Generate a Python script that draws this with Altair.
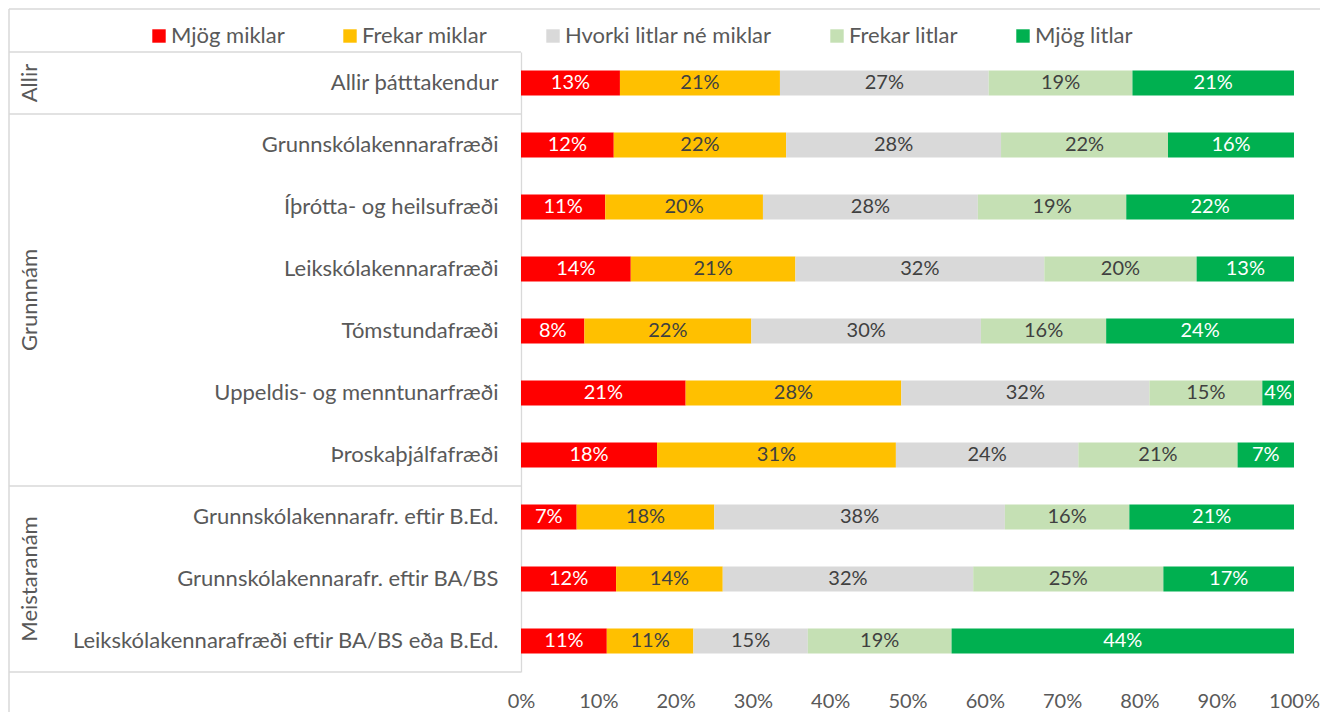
import altair as alt
import pandas as pd

categories = [
    "Allir þátttakendur",
    "Grunnskólakennarafræði",
    "Íþrótta- og heilsufræði",
    "Leikskólakennarafræði",
    "Tómstundafræði",
    "Uppeldis- og menntunarfræði",
    "Þroskaþjálfafræði",
    "Grunnskólakennarafr. eftir B.Ed.",
    "Grunnskólakennarafr. eftir BA/BS",
    "Leikskólakennarafræði eftir BA/BS eða B.Ed.",
]
levels = ["Mjög miklar", "Frekar miklar", "Hvorki litlar né miklar", "Frekar litlar", "Mjög litlar"]
mjog_miklar = [12.8, 12.0, 10.9, 14.2, 8.2, 21.3, 17.6, 7.2, 12.3, 11.1]
frekar_miklar = [20.7, 22.3, 20.4, 21.3, 21.6, 27.9, 30.9, 17.8, 13.8, 11.2]
hvorki = [27.0, 27.8, 27.8, 32.2, 29.7, 32.1, 23.6, 37.6, 32.4, 14.8]
frekar_litlar = [18.6, 21.6, 19.2, 19.7, 16.2, 14.6, 20.6, 16.1, 24.6, 18.6]
mjog_litlar = [20.9, 16.3, 21.7, 12.6, 24.3, 4.1, 7.3, 21.3, 16.9, 44.3]
groups = ["Allir", "Grunnnám", "Meistaranám"]
group_sizes = [1, 6, 3]
colors = ["#FF0000", "#FFC000", "#D9D9D9", "#C5E0B4", "#00B050"]
x_ticks = [0, 0.1, 0.2, 0.3, 0.4, 0.5, 0.6, 0.7, 0.8, 0.9, 1.0]

FONT = "Lato"
GRAY_TXT = "#595959"
LINE = "#D9D9D9"

series = [mjog_miklar, frekar_miklar, hvorki, frekar_litlar, mjog_litlar]
rows = []
for li, (lvl, vals) in enumerate(zip(levels, series)):
    for c, v in zip(categories, vals):
        rows.append({"cat": c, "level": lvl, "order": li, "frac": v / 100.0})
df = pd.DataFrame(rows)

starts, ends = [], []
acc = 0
for s in group_sizes:
    starts.append(acc)
    acc += s
    ends.append(acc)
gdf = pd.DataFrame({"group": groups, "start": starts, "end": ends})
gdf["mid"] = (gdf["start"] + gdf["end"]) / 2
bdf = pd.DataFrame({"b": [0] + ends})

yenc = alt.Y(
    "cat:N",
    sort=categories,
    title=None,
    scale=alt.Scale(paddingInner=0.6, paddingOuter=0.3),
    axis=alt.Axis(
        labelFont=FONT, labelFontSize=22, labelColor=GRAY_TXT, labelPadding=23,
        labelLimit=800, ticks=False, domainColor=LINE, domainWidth=1.3,
    ),
)

base = alt.Chart(df).transform_stack(
    stack="frac", groupby=["cat"], as_=["x0", "x1"], sort=[alt.SortField("order")]
).transform_calculate(mid="(datum.x0 + datum.x1) / 2")

bars = base.mark_bar().encode(
    y=yenc,
    x=alt.X(
        "x0:Q",
        title=None,
        scale=alt.Scale(domain=[0, 1], nice=False),
        axis=alt.Axis(
            values=x_ticks, format=".0%", labelFont=FONT, labelFontSize=20,
            labelColor=GRAY_TXT, labelPadding=35, labelBaseline="alphabetic",
            labelFlush=False, domain=False, ticks=False, grid=False,
        ),
    ),
    x2="x1:Q",
    color=alt.Color(
        "level:N",
        scale=alt.Scale(domain=levels, range=colors),
        legend=alt.Legend(
            title=None, orient="none", direction="horizontal", legendX=-373, legendY=-27,
            symbolType="square", symbolSize=180, symbolStrokeWidth=0, labelFont=FONT,
            labelFontSize=22, labelColor=GRAY_TXT, labelOffset=1, columnPadding=54,
            labelLimit=400,
        ),
    ),
    order=alt.Order("order:Q"),
)

labels = base.mark_text(font=FONT, fontSize=20).encode(
    y=alt.Y("cat:N", sort=categories),
    x=alt.X("mid:Q"),
    text=alt.Text("frac:Q", format=".0%"),
    color=alt.condition(
        "datum.level == 'Mjög miklar' || datum.level == 'Mjög litlar'",
        alt.value("white"),
        alt.value("#404040"),
    ),
)

main = alt.layer(bars, labels)

gy = alt.Scale(domain=[0, 10], reverse=True, nice=False, zero=False)

sep = alt.Chart(bdf).mark_rule(color=LINE, strokeWidth=1.5).encode(
    y=alt.Y("b:Q", scale=gy, axis=None),
    x=alt.value(-512),
    x2=alt.value(0),
)

glabels = alt.Chart(gdf).mark_text(
    font=FONT, fontSize=22, color=GRAY_TXT, angle=270
).encode(
    y=alt.Y("mid:Q", scale=gy, axis=None),
    x=alt.value(-491),
    text="group:N",
)

one = pd.DataFrame({"k": [0]})
top_border = alt.Chart(one).mark_rule(color=LINE, strokeWidth=1.5).encode(
    x=alt.value(-512), x2=alt.value(820), y=alt.value(-43)
)
left_border = alt.Chart(one).mark_rule(color=LINE, strokeWidth=1.5).encode(
    x=alt.value(-512), y=alt.value(-43), y2=alt.value(680)
)

side = alt.layer(sep, glabels, top_border, left_border)

chart = alt.layer(main, side).resolve_scale(y="independent").properties(
    width=773,
    height=620,
    autosize=alt.AutoSizeParams(type="none"),
    padding={"left": 513, "top": 44, "right": 26, "bottom": 40},
).configure_view(strokeWidth=0)

chart.save("out.html", embed_options={"renderer": "svg", "actions": False})
